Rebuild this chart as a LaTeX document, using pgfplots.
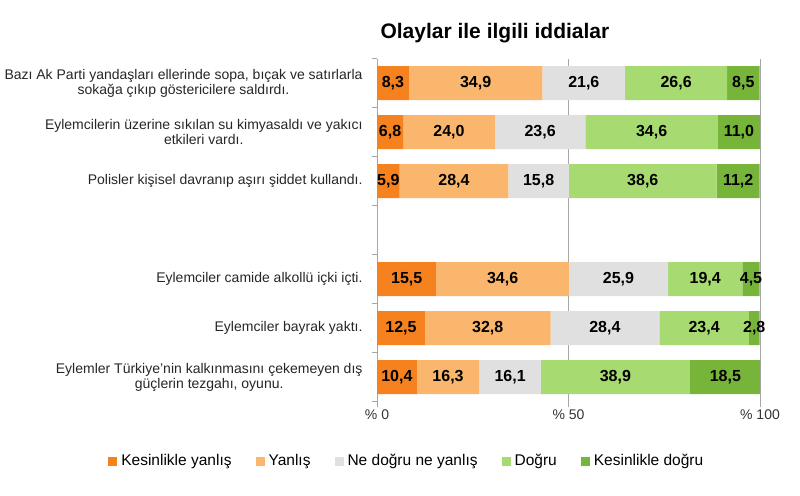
\documentclass[border=0pt]{standalone}
\usepackage{pgfplots}
\pgfplotsset{compat=1.18}
\usepackage{pgfplotstable}
\usepackage{fontspec}
\setmainfont{Liberation Sans}
\definecolor{ky}{HTML}{F5821F}
\definecolor{ya}{HTML}{FAB66C}
\definecolor{ne}{HTML}{E0E0E0}
\definecolor{dg}{HTML}{A7DA70}
\definecolor{kd}{HTML}{77B43A}
\definecolor{gridc}{HTML}{A6A6A6}

\pgfplotstableread{
y a b c d e
7 8.3 34.9 21.6 26.6 8.5
6 6.8 24.0 23.6 34.6 11.0
5 5.9 28.4 15.8 38.6 11.2
3 15.5 34.6 25.9 19.4 4.5
2 12.5 32.8 28.4 23.4 2.8
1 10.4 16.3 16.1 38.9 18.5
}\datatab
\pgfplotstablecreatecol[expr={\thisrow{a}/2}]{ma}\datatab
\pgfplotstablecreatecol[expr={\thisrow{a}+\thisrow{b}/2}]{mb}\datatab
\pgfplotstablecreatecol[expr={\thisrow{a}+\thisrow{b}+\thisrow{c}/2}]{mc}\datatab
\pgfplotstablecreatecol[expr={\thisrow{a}+\thisrow{b}+\thisrow{c}+\thisrow{d}/2}]{md}\datatab
\pgfplotstablecreatecol[expr={\thisrow{a}+\thisrow{b}+\thisrow{c}+\thisrow{d}+\thisrow{e}/2}]{me}\datatab

\pgfplotsset{
  sq/.style={legend image code/.code={\fill[##1, draw=none] (0pt,-4.5pt) rectangle (9pt,4.5pt);}},
  common/.style={at={(377pt,-401.5pt)}, anchor=south west,
    width=383pt, height=343pt, scale only axis,
    xmin=0, xmax=100, ymin=0.5, ymax=7.5},
  lbl/.style={draw=none, mark=none, nodes near coords, point meta=explicit,
    every node near coord/.append style={anchor=center, font=\fontsize{16}{18}\selectfont\bfseries, text=black}}
}

\begin{document}
\begin{tikzpicture}
\useasboundingbox (0pt,0pt) rectangle (800pt,-495pt);
\begin{axis}[common,
  xbar stacked, bar width=34pt,
  axis x line*=bottom, axis y line*=left,
  x axis line style={draw=none},
  y axis line style={gridc, line width=0.8pt},
  xtick={0,50,100}, xticklabels={\% 0,\% 50,\% 100},
  tick align=outside, major tick length=5pt, minor tick length=5pt,
  x tick style={gridc, line width=0.8pt},
  xmajorgrids, major grid style={gridc, line width=0.8pt},
  ytick={1,2,3,5,6,7},
  minor ytick={0.5,1.5,2.5,3.5,4.5,5.5,6.5,7.5},
  major y tick style={draw=none},
  minor y tick style={gridc, line width=0.8pt},
  yticklabels={
    {Eylemler Türkiye’nin kalkınmasını çekemeyen dış\\güçlerin tezgahı, oyunu.},
    {Eylemciler bayrak yaktı.},
    {Eylemciler camide alkollü içki içti.},
    {Polisler kişisel davranıp aşırı şiddet kullandı.},
    {Eylemcilerin üzerine sıkılan su kimyasaldı ve yakıcı\\etkileri vardı.},
    {Bazı Ak Parti yandaşları ellerinde sopa, bıçak ve satırlarla\\sokağa çıkıp göstericilere saldırdı.}},
  yticklabel style={font=\fontsize{14}{15}\selectfont, align=center, text=black!85, xshift=-6pt},
  xticklabel style={font=\fontsize{14}{16}\selectfont, text=black!80},
  legend style={at={(-0.702,-0.1735)}, anchor=west, draw=none, fill=none,
    inner sep=0pt, legend columns=5, font=\fontsize{15.5}{17}\selectfont,
    /tikz/every odd column/.append style={column sep=2pt},
    /tikz/every even column/.append style={column sep=22pt}},
  legend cell align=left,
]
\addplot[fill=ky, draw=none, sq] table[x=a, y=y] {\datatab};
\addplot[fill=ya, draw=none, sq] table[x=b, y=y] {\datatab};
\addplot[fill=ne, draw=none, sq] table[x=c, y=y] {\datatab};
\addplot[fill=dg, draw=none, sq] table[x=d, y=y] {\datatab};
\addplot[fill=kd, draw=none, sq] table[x=e, y=y] {\datatab};
\legend{Kesinlikle yanlış, Yanlış, Ne doğru ne yanlış, Doğru, Kesinlikle doğru}
\end{axis}
\begin{axis}[common, hide axis,
  /pgf/number format/.cd, use comma, fixed, fixed zerofill, precision=1, assume math mode=true]
\addplot[lbl] table[x=ma, y=y, meta=a] {\datatab};
\addplot[lbl] table[x=mb, y=y, meta=b] {\datatab};
\addplot[lbl] table[x=mc, y=y, meta=c] {\datatab};
\addplot[lbl] table[x=md, y=y, meta=d] {\datatab};
\addplot[lbl] table[x=me, y=y, meta=e] {\datatab};
\end{axis}
\node[anchor=base west, font=\fontsize{21}{24}\selectfont\bfseries] at (377pt,-38pt) {Olaylar ile ilgili iddialar};
\end{tikzpicture}
\end{document}
